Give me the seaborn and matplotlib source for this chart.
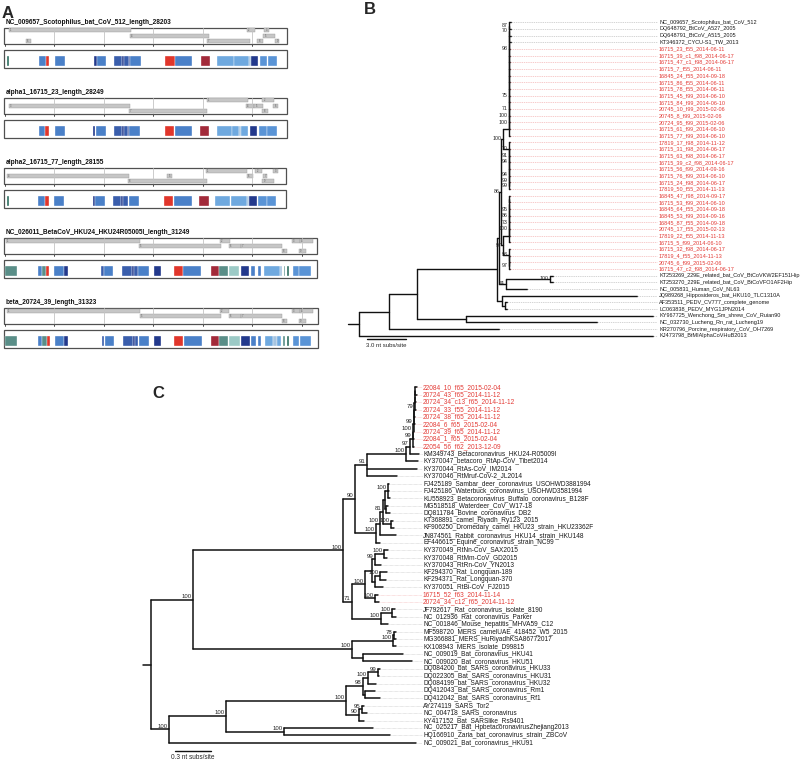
import matplotlib
matplotlib.use("Agg")
import matplotlib.pyplot as plt
from matplotlib.patches import Rectangle
import seaborn as sns

### panel A: genome maps, positions in kb
genome_titles = ["NC_009657_Scotophilus_bat_CoV_512_length_28203",
                 "alpha1_16715_23_length_28249",
                 "alpha2_16715_77_length_28155",
                 "NC_026011_BetaCoV_HKU24_HKU24R05005I_length_31249",
                 "beta_20724_39_length_31323"]
genome_lengths = [28.203, 28.249, 28.155, 31.249, 31.323]

# ORFs as (frame row, start, end)
orfs_g1 = [(1, 0.4, 12.7), (1, 24.4, 25.3), (1, 26.2, 26.7), (2, 12.6, 20.6), (2, 26.1, 27.3),
           (3, 2.1, 2.6), (3, 20.4, 24.7), (3, 25.5, 26.1), (3, 27.3, 27.7)]
orfs_g2 = [(1, 20.4, 24.5), (1, 26.0, 27.2), (2, 0.4, 12.6), (2, 24.3, 25.2), (2, 25.2, 26.1),
           (2, 27.1, 27.6), (3, 12.5, 20.4), (3, 26.0, 26.6)]
orfs_g3 = [(1, 20.3, 24.4), (1, 25.3, 26.0), (1, 27.1, 27.6), (2, 0.2, 12.5), (2, 16.4, 16.9),
           (2, 24.4, 25.1), (2, 26.1, 26.5), (3, 12.4, 20.4), (3, 26.0, 27.2)]
orfs_g4 = [(1, 0.1, 13.6), (1, 21.7, 22.7), (1, 29.0, 29.8), (1, 29.8, 31.1), (2, 13.5, 21.8),
           (2, 22.6, 23.8), (2, 23.8, 28.0), (3, 28.0, 28.5), (3, 29.7, 30.4)]
orfs_g5 = [(1, 0.2, 13.6), (1, 21.7, 22.6), (1, 29.0, 29.8), (1, 29.8, 31.1), (2, 13.6, 21.8),
           (2, 22.6, 23.8), (2, 23.8, 28.0), (3, 28.0, 28.5), (3, 29.7, 30.4)]

# protein domain hits as (class, start, end)
dom_g1 = [("dteal", 0.2, 0.45), ("blue", 3.45, 4.1), ("red", 4.1, 4.45), ("blue", 5.05, 6.05),
          ("navy", 9.0, 9.25), ("blue", 9.3, 10.2), ("dblue", 11.0, 11.8), ("navy", 11.8, 12.0),
          ("dblue", 12.0, 12.5), ("navy", 12.5, 12.65), ("blue", 12.65, 13.7), ("red", 16.2, 17.15),
          ("blue", 17.2, 18.9), ("dred", 19.8, 20.7), ("lblue", 21.4, 23.1), ("lblue", 23.15, 24.6),
          ("pale", 24.6, 24.85), ("navy", 24.85, 25.55), ("blue2", 25.75, 26.5), ("blue2", 26.55, 27.45)]
dom_g2 = [("blue", 3.47, 4.05), ("red", 4.07, 4.41), ("blue", 5.05, 6.06), ("navy", 8.92, 9.13),
          ("blue", 9.15, 10.2), ("dblue", 11.0, 11.78), ("navy", 11.78, 12.02), ("dblue", 12.02, 12.42),
          ("navy", 12.42, 12.56), ("blue", 12.56, 13.64), ("red", 16.2, 17.07), ("blue", 17.14, 18.92),
          ("dred", 19.7, 20.64), ("lblue", 21.38, 22.9), ("lblue", 22.96, 23.67), ("pale", 23.67, 23.87),
          ("lblue", 23.87, 24.58), ("navy", 24.75, 25.49), ("blue2", 25.69, 26.43), ("blue2", 26.5, 27.44)]
dom_g3 = [("dteal", 0.24, 0.4), ("blue", 3.37, 4.0), ("red", 4.04, 4.41), ("blue", 4.95, 5.96),
          ("navy", 8.86, 9.06), ("blue", 9.08, 10.1), ("dblue", 10.88, 11.68), ("navy", 11.68, 11.95),
          ("dblue", 11.95, 12.42), ("blue", 12.49, 13.57), ("red", 16.06, 17.0), ("blue", 17.07, 18.86),
          ("dred", 19.63, 20.57), ("lblue", 21.25, 22.73), ("lblue", 22.8, 24.41), ("pale", 24.41, 24.61),
          ("navy", 24.61, 25.42), ("blue2", 25.59, 26.43), ("blue2", 26.5, 27.37)]
dom_g4 = [("teal", 0.0, 1.18), ("blue", 3.36, 3.71), ("teal", 3.71, 4.14), ("red", 4.14, 4.47),
          ("blue", 4.95, 5.96), ("navy", 5.96, 6.36), ("dblue", 9.73, 10.0), ("blue", 10.0, 10.94),
          ("dblue", 11.82, 12.8), ("navy", 12.8, 13.03), ("dblue", 13.03, 13.46), ("blue", 13.46, 14.55),
          ("navy", 15.08, 15.79), ("red", 17.07, 17.95), ("blue", 18.01, 19.83), ("dred", 20.78, 21.62),
          ("teal", 21.62, 22.49), ("lteal", 22.63, 23.67), ("navy", 23.87, 24.68), ("blue", 24.82, 25.28),
          ("blue", 25.56, 25.83), ("lblue", 26.16, 27.78), ("pale", 27.78, 27.98), ("teal", 28.18, 28.31),
          ("dteal", 28.52, 28.66), ("blue2", 29.06, 29.67), ("blue2", 29.73, 30.88)]
dom_g5 = [("teal", 0.0, 1.18), ("blue", 3.37, 3.7), ("teal", 3.7, 4.2), ("red", 4.2, 4.55),
          ("blue", 5.05, 5.96), ("navy", 5.99, 6.4), ("dblue", 9.77, 10.0), ("blue", 10.1, 11.0),
          ("dblue", 11.9, 12.96), ("navy", 12.96, 13.13), ("dblue", 13.13, 13.47), ("blue", 13.57, 14.58),
          ("navy", 15.05, 15.79), ("red", 17.07, 17.95), ("blue", 18.08, 19.87), ("dred", 20.77, 21.65),
          ("teal", 21.65, 22.49), ("lteal", 22.59, 23.74), ("navy", 23.87, 24.75), ("blue", 24.82, 25.35),
          ("blue", 25.56, 25.89), ("lblue", 26.23, 27.1), ("pale", 27.1, 27.44), ("lblue", 27.44, 27.85),
          ("teal", 28.11, 28.31), ("dteal", 28.45, 28.72), ("blue2", 29.06, 29.73), ("blue2", 29.8, 30.94)]

domain_colors = {"dteal": "#2f6e60", "teal": "#5a8e88", "lteal": "#9ccac6", "blue": "#4a80c8",
                 "blue2": "#5a94d6", "lblue": "#6fa9df", "pale": "#a6c4e0", "dblue": "#3a5eac",
                 "navy": "#23398c", "red": "#e0362b", "dred": "#a22a3a"}

### panel B: alphacoronavirus tree (branch lengths in nt subs/site)
b_top_names = ["NC_009657_Scotophilus_bat_CoV_512", "DQ648792_BtCoV_A527_2005", "DQ648791_BtCoV_A515_2005",
               "KT346372_CYCU-S1_TW_2013", "16715_23_f55_2014-06-11", "16715_39_c1_f98_2014-06-17",
               "16715_47_c1_f98_2014-06-17", "16715_7_f55_2014-06-11", "16845_24_f55_2014-09-18",
               "16715_86_f55_2014-06-11", "16715_78_f55_2014-06-11", "16715_45_f99_2014-06-10",
               "16715_84_f99_2014-06-10", "20745_10_f99_2015-02-06", "20745_8_f99_2015-02-06",
               "20724_95_f99_2015-02-06", "16715_61_f99_2014-06-10", "16715_77_f99_2014-06-10"]
b_top_lens = [0.15, 0.15, 0.15, 0.15, 0.08, 0.08, 0.1, 0.08, 0.08, 0.1, 0.08, 0.08, 0.08, 0.1, 0.08, 0.08, 0.08, 0.08]
b_top_sup = ["87", "70", "", "", "98", "", "", "", "", "", "", "75", "", "71", "100", "100", ""]
b_mid_names = ["17819_17_f98_2014-11-12", "16715_31_f98_2014-06-17", "16715_63_f98_2014-06-17",
               "16715_39_c2_f98_2014-06-17", "16715_56_f99_2014-09-16", "16715_76_f99_2014-06-10",
               "16715_24_f98_2014-06-17", "17819_50_f55_2014-11-13"]
b_mid_lens = [0.08, 0.08, 0.08, 0.1, 0.08, 0.08, 0.08, 0.08]
b_mid_sup = ["99", "99", "94", "", "94", "91", "70"]
b_lowa_names = ["16845_47_f98_2014-09-17", "16715_53_f99_2014-06-10", "16845_64_f55_2014-09-18",
                "16845_53_f99_2014-09-16", "16845_87_f55_2014-09-18", "20745_17_f55_2015-02-13",
                "17819_22_f55_2014-11-13", "16715_5_f99_2014-06-10"]
b_lowa_lens = [0.08, 0.08, 0.08, 0.08, 0.1, 0.08, 0.08, 0.08]
b_lowa_sup = ["", "", "95", "86", "73", "100", ""]
b_lowb_names = ["16715_32_f98_2014-06-17", "17819_4_f55_2014-11-13", "20745_6_f99_2015-02-06",
                "16715_47_c2_f98_2014-06-17"]
b_lowb_lens = [0.08, 0.08, 0.08, 0.08]
b_lowb_sup = ["97", "", "93"]

### panel C: betacoronavirus tree
c_red_names = ["22084_10_f65_2015-02-04", "20724_43_f65_2014-11-12", "20724_34_c13_f65_2014-11-12",
               "20724_33_f55_2014-11-12", "20724_38_f65_2014-11-12", "22084_6_f65_2015-02-04",
               "20724_39_f65_2014-11-12", "22084_1_f65_2015-02-04", "22054_56_f62_2013-12-09"]
c_red_lens = [0.01, 0.01, 0.01, 0.008, 0.008, 0.008, 0.006, 0.006, 0.006]
c_red_sup = ["", "", "", "79", "", "99", "100", "99"]


def ladder(names, lens, sups, inner, upward=False):
    # nested comb of tips; sups listed from innermost node outwards
    items = list(zip(names, lens))
    if upward:
        items = items[::-1]
    s = "%s:%s" % items[0]
    for i, ((nm, ln), sup) in enumerate(zip(items[1:], sups)):
        if i:
            s += ":%s" % inner
        if upward:
            s = "(%s:%s,%s)%s" % (nm, ln, s, sup)
        else:
            s = "(%s,%s:%s)%s" % (s, nm, ln, sup)
    return s


b_upper = "(%s:0.46,%s:0.46)100" % (ladder(b_top_names, b_top_lens, b_top_sup, 0),
                                     ladder(b_mid_names, b_mid_lens, b_mid_sup, 0, upward=True))
b_lower = "(%s:0.46,%s:0.46)97" % (ladder(b_lowa_names, b_lowa_lens, b_lowa_sup, 0),
                                    ladder(b_lowb_names, b_lowb_lens, b_lowb_sup, 0, upward=True))
b_nl63 = ("((KT253269_229E_related_bat_CoV_BtCoVKW2EF151Hip:0.23,"
          "KT253270_229E_related_bat_CoV_BtCoVFO1AF2Hip:0.23)100:3.36,NC_005831_Human_CoV_NL63:1.6)74")
b_pedv = ("(JQ989268_Hipposideros_bat_HKU10_TLC1310A:10.3,(AF353511_PEDV_CV777_complete_genome:0.15,"
          "LC063838_PEDV_MYG1JPN2014:0.15):0.23)")
b_rodent = "(KY967725_Wenchong_Sm_shrew_CoV_Ruian90:14.3,NC_032730_Lucheng_Rn_rat_Lucheng19:10.0)"
tree_b = ("((((((%s:0.15,%s:0.15)86:0.15,%s:0.53):0.15,%s:0.38):6.11,%s:3.74):2.14,"
          "KR270796_Porcine_respiratory_CoV_OH7269:8.4):2.29,KJ473798_BtMIAlphaCoVHuB2013:22.44);"
          % (b_upper, b_lower, b_nl63, b_pedv, b_rodent))

c_hku24 = ("((%s:0.025,KM349743_Betacoronavirus_HKU24-R05009I:0.075)97:0.033,"
           "KY370047_betacoro_RtAp-CoV_Tibet2014:0.1)100" % ladder(c_red_names, c_red_lens, c_red_sup, 0.003))
c_a = "(%s:0.325,KY370044_RtAs-CoV_IM2014:0.417,KY370046_RtMruf-CoV-2_JL2014:0.25)91" % c_hku24
c_bovine = ("(((((FJ425189_Sambar_deer_coronavirus_USOHWD3881994:0.008,"
            "FJ425186_Waterbuck_coronavirus_USOHWD3581994:0.008,"
            "KU558923_Betacoronavirus_Buffalo_coronavirus_B128F:0.017)100:0.025,"
            "(MG518518_Waterdeer_CoV_W17-18:0.017,DQ811784_Bovine_coronavirus_DB2:0.033):0.008):0.017,"
            "(KT368891_camel_Riyadh_Ry123_2015:0.017,"
            "KF906250_Dromedary_camel_HKU23_strain_HKU23362F:0.025)100:0.067)81:0.025,"
            "JN874561_Rabbit_coronavirus_HKU14_strain_HKU148:0.133)100:0.033,"
            "EF446615_Equine_coronavirus_strain_NC99:0.033)100")
c_rat = ("((((KY370049_RtNn-CoV_SAX2015:0.033,KY370048_RtMm-CoV_GD2015:0.025)100:0.075,"
         "KY370043_RtRn-CoV_YN2013:0.05)99:0.025,((KF294370_Rat_Longquan-189:0.058,"
         "KF294371_Rat_Longquan-370:0.05)100:0.042,KY370051_RtBi-CoV_FJ2015:0.067):0.025):0.058,"
         "(16715_52_f63_2014-11-14:0.025,20724_34_c12_f65_2014-11-12:0.033)100:0.083)100")
c_mhv = ("((JF792617_Rat_coronavirus_isolate_8190:0.025,NC_012936_Rat_coronavirus_Parker:0.033)100:0.092,"
         "NC_001846_Mouse_hepatitis_MHVA59_C12:0.058)100")
c_mers = ("(((MF598720_MERS_camelUAE_418452_W5_2015:0.017,MG366881_MERS_HuRiyadhKSA86772017:0.017)78:0.008,"
          "KX108943_MERS_isolate_D99815:0.025)100:0.342,"
          "(NC_009019_Bat_coronavirus_HKU41:0.333,NC_009020_Bat_coronavirus_HKU51:0.408):0.092)100")
c_sars = ("((((DQ084200_bat_SARS_coronavirus_HKU33:0.017,DQ022305_Bat_SARS_coronavirus_HKU31:0.008)99:0.083,"
          "DQ084199_bat_SARS_coronavirus_HKU32:0.067)100:0.042,(DQ412043_Bat_SARS_coronavirus_Rm1:0.083,"
          "DQ412042_Bat_SARS_coronavirus_Rf1:0.125):0.017)98:0.142,((AY274119_SARS_Tor2:0.017,"
          "NC_004718_SARS_coronavirus:0.042)95:0.025,KY417152_Bat_SARSlike_Rs9401:0.042)90:0.108)100")
tree_c = ("((((%s:0.1,%s:0.175)90:0.1,(%s:0.108,%s:0.242)71:0.075)100:1.25,%s:1.325)100:0.35,"
          "((%s:1.0,(NC_025217_Bat_HpbetacoronavirusZhejiang2013:0.742,"
          "HQ166910_Zaria_bat_coronavirus_strain_ZBCoV:0.883)100:0.483)100:0.475,"
          "NC_009021_Bat_coronavirus_HKU91:2.058)100:0.15);"
          % (c_a, c_bovine, c_rat, c_mhv, c_mers, c_sars))


### function to read a newick string into nested dicts
def parse_newick(text):
    pos = 0

    def read():
        nonlocal pos
        kids = []
        if text[pos] == "(":
            pos += 1
            kids.append(read())
            while text[pos] == ",":
                pos += 1
                kids.append(read())
            pos += 1
        start = pos
        while text[pos] not in ",();":
            pos += 1
        name, _, length = text[start:pos].partition(":")
        return {"name": name, "len": float(length or 0), "kids": kids}
    return read()


### function to give every node its depth (x) and row (y)
def place(node, x0, tips):
    node["x"] = x0 + node["len"]
    for k in node["kids"]:
        place(k, node["x"], tips)
    if node["kids"]:
        node["y"] = (node["kids"][0]["y"] + node["kids"][-1]["y"]) / 2
    else:
        node["y"] = len(tips)
        tips.append(node)
    return tips


### function to draw a rectangular tree
def draw_tree(ax, newick, label_x, tip_fs, sup_fs, sup_dx, sup_dy, stub, lw, dash):
    root = parse_newick(newick)
    tips = place(root, 0.0, [])

    def walk(n):
        if not n["kids"]:
            return
        ax.plot([n["x"], n["x"]], [n["kids"][0]["y"], n["kids"][-1]["y"]], color="#111111", lw=lw)
        for k in n["kids"]:
            ax.plot([n["x"], k["x"]], [k["y"], k["y"]], color="#111111", lw=lw)
            walk(k)
        if n["name"]:
            ax.text(n["x"] - sup_dx, n["y"] - sup_dy, n["name"], ha="right", va="center",
                    fontsize=sup_fs, color="#222222")
    walk(root)
    ax.plot([-stub, 0], [root["y"], root["y"]], color="#111111", lw=lw)
    for t in tips:
        red = t["name"][0].isdigit()
        ax.plot([t["x"], label_x - sup_dx], [t["y"], t["y"]], ls=dash, lw=0.4,
                color="#f2a5a5" if red else "#b5b5b5")
        ax.text(label_x, t["y"], t["name"], fontsize=tip_fs, va="center",
                color="#e33b36" if red else "#1a1a1a")
    return tips


sns.set_theme(style="white")
plt.rcParams["font.family"] = ["Liberation Sans", "DejaVu Sans"]

W, H = 800, 762
fig = plt.figure(figsize=(8, 7.62), dpi=100)


def px_axes(x0, y0, x1, y1):
    ax = fig.add_axes([x0 / W, 1 - y1 / H, (x1 - x0) / W, (y1 - y0) / H])
    ax.axis("off")
    return ax


# panel A
axA = px_axes(0, 0, 410, 360)
kb_px = 9.9
axA.set_xlim(-5 / kb_px, 405 / kb_px)
axA.set_ylim(360, 0)
genome_orfs = [orfs_g1, orfs_g2, orfs_g3, orfs_g4, orfs_g5]
genome_doms = [dom_g1, dom_g2, dom_g3, dom_g4, dom_g5]
for g, (title, length, orfs, doms) in enumerate(zip(genome_titles, genome_lengths, genome_orfs, genome_doms)):
    top = 22 + 70.1 * g
    axA.text(0.05, top, title, fontsize=4.7, fontweight="bold", va="center", color="#111111")
    x0, w = -0.1, length + 0.35
    axA.add_patch(Rectangle((x0, top + 5.5), w, 16, fill=False, ec="#505050", lw=0.9))
    for k in range(0, int(length) + 1, 5):
        if k:
            axA.plot([k, k], [top + 5.5, top + 21.5], color="#c4c4c4", lw=0.6)
        axA.plot([k, k], [top + 21.5, top + 23.5], color="#333333", lw=0.6)
    for i, (row, s, e) in enumerate(orfs):
        yb = top + 6.3 + (row - 1) * 5.3
        axA.add_patch(Rectangle((s, yb), e - s, 4, fc="#c6c6c6", ec="#9a9a9a", lw=0.3))
        axA.text(s + 0.12, yb + 2, str(i + 1), fontsize=1.8, va="center", color="#555555")
    axA.add_patch(Rectangle((x0, top + 28), w, 17.5, fill=False, ec="#505050", lw=0.9))
    for kind, s, e in doms:
        axA.add_patch(Rectangle((s, top + 34), e - s, 10, fc=domain_colors[kind], ec="white", lw=0.25))

# panel B
axB = px_axes(340, 0, 800, 352)
b_px, b_row, b_row0 = 13.1, 6.67, 22.3
axB.set_xlim((340 - 359) / b_px, (800 - 359) / b_px)
axB.set_ylim((352 - b_row0) / b_row, -b_row0 / b_row)
draw_tree(axB, tree_b, label_x=(659 - 359) / b_px, tip_fs=4.0, sup_fs=3.8, sup_dx=0.12, sup_dy=0.05,
          stub=11 / b_px, lw=1.0, dash=(0, (2.5, 1.5)))
bar_y = (339.3 - b_row0) / b_row
axB.plot([0.59, 0.59 + 3.0], [bar_y, bar_y], color="#111111", lw=1.0)
axB.text(0.59 + 1.5, bar_y + 0.95, "3.0 nt subs/site", ha="center", va="center", fontsize=4.3)

# panel C
axC = px_axes(130, 370, 800, 762)
c_px, c_row, c_row0 = 120, 7.405, 387.3
axC.set_xlim((130 - 151) / c_px, (800 - 151) / c_px)
axC.set_ylim((762 - c_row0) / c_row, (370 - c_row0) / c_row)
draw_tree(axC, tree_c, label_x=(423 - 151) / c_px, tip_fs=4.7, sup_fs=4.3, sup_dx=0.012, sup_dy=0.45,
          stub=8.5 / c_px, lw=1.1, dash=(0, (1, 1.2)))
bar_y = (751 - c_row0) / c_row
axC.plot([0.2, 0.2 + 0.3], [bar_y, bar_y], color="#111111", lw=1.0)
axC.text(0.2 + 0.15, bar_y + 0.85, "0.3 nt subs/site", ha="center", va="center", fontsize=4.7)

# panel letters
for letter, (lx, ly) in zip("ABC", [(8, 13), (370, 9), (158, 393)]):
    fig.text(lx / W, 1 - ly / H, letter, fontsize=12, fontweight="bold", ha="center", va="center")

fig.savefig("out.png", dpi=100)
